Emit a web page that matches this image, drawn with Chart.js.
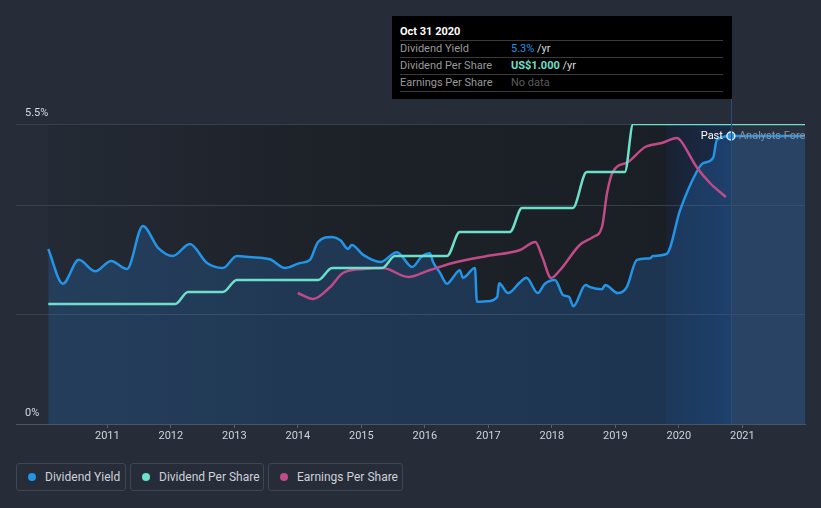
<!DOCTYPE html>
<html>
<head>
<meta charset="utf-8">
<script src="https://cdn.jsdelivr.net/npm/chart.js@4"></script>
<style>
  body { margin: 0; background: #262c38; font-family: Roboto, 'Open Sans', sans-serif; }
  #wrap { position: relative; width: 821px; height: 508px; }
  #chart { position: absolute; left: 0; top: 0; }
  .tip { position: absolute; left: 392px; top: 16px; width: 340px; height: 83px; background: #000; font-size: 11px; }
  .tip .head { position: absolute; left: 8px; top: 9px; color: #fff; font-weight: bold; font-size: 11px; }
  .tip .row { position: absolute; left: 8px; width: 323px; height: 17px; border-top: 1px solid #3a3a3a; line-height: 16px; color: #9a9a9a; }
  .tip .row span.v { position: absolute; left: 111px; }
  .legend { position: absolute; top: 463px; height: 28px; border: 1px solid #3f4653; border-radius: 3px; box-sizing: border-box; color: #cdd1d8; font-size: 12px; line-height: 26px; padding-left: 28px; }
  .legend i { position: absolute; left: 11px; top: 9px; width: 8px; height: 8px; border-radius: 50%; }
</style>
</head>
<body>
<div id="wrap">
  <canvas id="chart" width="821" height="450"></canvas>
  <div class="tip">
    <div class="head">Oct 31 2020</div>
    <div class="row" style="top:24px">Dividend Yield<span class="v"><b style="color:#2394e6;font-weight:normal">5.3%</b> <span style="color:#ddd">/yr</span></span></div>
    <div class="row" style="top:41px">Dividend Per Share<span class="v"><b style="color:#6de0cb">US$1.000</b> <span style="color:#ddd">/yr</span></span></div>
    <div class="row" style="top:58px;height:16px;border-bottom:1px solid #3a3a3a">Earnings Per Share<span class="v" style="color:#5c5c5c">No data</span></div>
  </div>
  <div class="legend" style="left:16px;width:110px"><i style="background:#2394e6"></i>Dividend Yield</div>
  <div class="legend" style="left:130px;width:134px"><i style="background:#6de0cb"></i>Dividend Per Share</div>
  <div class="legend" style="left:268px;width:135px"><i style="background:#c04b88"></i>Earnings Per Share</div>
</div>
<script>
// x values are decimal years
const yieldDates = [2010.07, 2010.30, 2010.55, 2010.81, 2011.06, 2011.31, 2011.56, 2011.80, 2012.03, 2012.30,
  2012.57, 2012.82, 2013.04, 2013.25, 2013.56, 2013.80, 2014.03, 2014.19, 2014.32, 2014.54,
  2014.67, 2014.79, 2014.85, 2015.03, 2015.30, 2015.56, 2015.80, 2015.96, 2016.08, 2016.13,
  2016.24, 2016.35, 2016.44, 2016.55, 2016.60, 2016.79, 2016.82, 2016.98, 2017.14, 2017.17,
  2017.31, 2017.50, 2017.60, 2017.78, 2017.89, 2018.05, 2018.18, 2018.27, 2018.34, 2018.53,
  2018.60, 2018.79, 2018.84, 2019.04, 2019.18, 2019.34, 2019.55, 2019.59, 2019.81, 2020.02,
  2020.28, 2020.38, 2020.54, 2020.60, 2020.82, 2022.0];
const yieldValues = [3.21, 2.57, 3.01, 2.80, 2.99, 2.84, 3.63, 3.23, 3.08, 3.30,
  2.95, 2.86, 3.08, 3.06, 3.02, 2.86, 2.95, 3.01, 3.34, 3.43,
  3.37, 3.21, 3.28, 3.10, 2.97, 3.15, 2.88, 3.08, 3.13, 2.97,
  2.77, 2.57, 2.68, 2.82, 2.68, 2.86, 2.24, 2.25, 2.33, 2.58,
  2.40, 2.60, 2.68, 2.40, 2.57, 2.64, 2.36, 2.33, 2.16, 2.55,
  2.51, 2.47, 2.55, 2.40, 2.51, 3.01, 3.04, 3.08, 3.12, 3.92,
  4.62, 4.78, 4.88, 5.21, 5.28, 5.28];

const dpsDates = [2010.07, 2012.07, 2012.27, 2012.82, 2013.04, 2014.32, 2014.54, 2015.33, 2015.53,
  2016.35, 2016.55, 2017.34, 2017.53, 2018.33, 2018.55, 2019.15, 2019.28, 2022.0];
const dpsValues = [0.40, 0.40, 0.44, 0.44, 0.48, 0.48, 0.52, 0.52, 0.56,
  0.56, 0.64, 0.64, 0.72, 0.72, 0.84, 0.84, 1.00, 1.00];

const epsDates = [2014.00, 2014.24, 2014.51, 2014.71, 2015.03, 2015.34, 2015.74, 2016.08, 2016.44, 2016.98,
  2017.50, 2017.74, 2017.85, 2017.99, 2018.13, 2018.44, 2018.65, 2018.79, 2018.87, 2018.96,
  2019.20, 2019.47, 2019.73, 2019.97, 2020.02, 2020.28, 2020.49, 2020.74];
const epsValues = [1.31, 1.25, 1.37, 1.51, 1.55, 1.56, 1.47, 1.54, 1.61, 1.68,
  1.74, 1.82, 1.67, 1.46, 1.54, 1.79, 1.87, 1.97, 2.31, 2.52,
  2.62, 2.77, 2.81, 2.86, 2.84, 2.57, 2.41, 2.27];

const yearTicks = [2011, 2012, 2013, 2014, 2015, 2016, 2017, 2018, 2019, 2020, 2021];
const yGridValues = [0, 2, 4, 5.5];
const yTickLabels = ['0%', '5.5%'];

const startDate = 2010.07;
const bandStart = 2019.81;
const pastDate = 2020.82;
const endDate = 2022.0;

const pts = (xs, ys) => xs.map((x, i) => ({ x, y: ys[i] }));
const markerRadius = r => c => (c.raw && c.raw.x === pastDate ? r : 0);

// plot backgrounds, drawn before the grid
const backdrop = {
  id: 'backdrop',
  beforeDraw(chart) {
    const { ctx, chartArea, scales } = chart;
    const x = scales.x;
    const top = chartArea.top, bottom = chartArea.bottom;
    const x0 = x.getPixelForValue(startDate);
    const x1 = x.getPixelForValue(bandStart);
    const x2 = x.getPixelForValue(pastDate);
    const x3 = x.getPixelForValue(endDate);
    ctx.save();
    let g = ctx.createLinearGradient(x0, 0, x1, 0);
    g.addColorStop(0, '#242a35');
    g.addColorStop(0.45, '#1d2128');
    g.addColorStop(1, '#1a1e25');
    ctx.fillStyle = g;
    ctx.fillRect(x0, top, x1 - x0, bottom - top);
    g = ctx.createLinearGradient(x1, 0, x2, 0);
    g.addColorStop(0, '#192233');
    g.addColorStop(1, '#1a2c4a');
    ctx.fillStyle = g;
    ctx.fillRect(x1, top, x2 - x1, bottom - top);
    ctx.fillStyle = '#283140';
    ctx.fillRect(x2, top, x3 - x2, bottom - top);
    ctx.restore();
  },
  afterDatasetsDraw(chart) {
    const { ctx, chartArea, scales } = chart;
    const x = scales.x, y = scales.y;
    const xp = x.getPixelForValue(pastDate);
    ctx.save();
    // y labels sit above their grid line
    ctx.font = '11px Roboto, sans-serif';
    ctx.fillStyle = '#d8dce2';
    ctx.textBaseline = 'bottom';
    ctx.fillText(yTickLabels[1], 25, y.getPixelForValue(5.5) - 5);
    ctx.fillText(yTickLabels[0], 25, y.getPixelForValue(0) - 5);
    // past / forecast divider
    ctx.strokeStyle = '#2b4d78';
    ctx.lineWidth = 1;
    ctx.beginPath();
    ctx.moveTo(Math.round(xp) + 0.5, 99);
    ctx.lineTo(Math.round(xp) + 0.5, chartArea.bottom);
    ctx.stroke();
    const yy = y.getPixelForValue(5.28);
    ctx.textBaseline = 'middle';
    ctx.textAlign = 'right';
    ctx.fillStyle = '#ffffff';
    ctx.fillText('Past', xp - 8, yy);
    ctx.beginPath();
    ctx.rect(xp, chartArea.top, chartArea.right - xp, chartArea.bottom - chartArea.top);
    ctx.clip();
    ctx.textAlign = 'left';
    ctx.fillStyle = '#8893a3';
    ctx.fillText('Analysts Forecasts', xp + 8, yy);
    ctx.restore();
  }
};

const ctx = document.getElementById('chart').getContext('2d');
const chart = new Chart(ctx, {
  type: 'line',
  data: {
    datasets: [
      {
        label: 'Dividend Per Share',
        data: pts(dpsDates, dpsValues),
        yAxisID: 'dps',
        borderColor: '#6de0cb',
        borderWidth: 2.5,
        cubicInterpolationMode: 'monotone',
        pointRadius: markerRadius(4),
        pointBackgroundColor: '#6de0cb',
        pointBorderColor: '#ffffff',
        pointBorderWidth: 1.5,
        fill: false,
        order: 1
      },
      {
        label: 'Earnings Per Share',
        data: pts(epsDates, epsValues),
        yAxisID: 'eps',
        borderColor: '#c04b88',
        borderWidth: 2.5,
        cubicInterpolationMode: 'monotone',
        pointRadius: 0,
        fill: false,
        order: 2
      },
      {
        label: 'Dividend Yield',
        data: pts(yieldDates, yieldValues),
        yAxisID: 'y',
        borderColor: '#2394e6',
        borderWidth: 2.5,
        cubicInterpolationMode: 'monotone',
        pointRadius: markerRadius(4),
        pointBackgroundColor: '#2394e6',
        pointBorderColor: '#dbe9f7',
        pointBorderWidth: 1.5,
        fill: 'origin',
        backgroundColor: 'rgba(40,120,200,0.27)',
        order: 3
      }
    ]
  },
  options: {
    responsive: false,
    animation: false,
    layout: { padding: { left: 16, right: 16, top: 124, bottom: 0 } },
    plugins: { legend: { display: false }, tooltip: { enabled: false } },
    scales: {
      x: {
        type: 'linear',
        min: 2009.562,
        max: 2021.987,
        afterBuildTicks: s => { s.ticks = yearTicks.map(v => ({ value: v })); },
        afterFit: s => { s.height = 26; },
        ticks: {
          color: '#d0d4da',
          font: { family: 'Roboto', size: 11 },
          padding: 2,
          maxRotation: 0,
          callback: v => String(v)
        },
        grid: { drawOnChartArea: false, drawTicks: true, tickLength: 4, color: '#5a606b' },
        border: { color: '#4e5460', width: 1 }
      },
      y: {
        min: 0,
        max: 5.5,
        afterBuildTicks: s => { s.ticks = yGridValues.map(v => ({ value: v })); },
        afterFit: s => { s.width = 0; },
        ticks: { display: false },
        grid: { color: '#3a404b', drawTicks: false },
        border: { display: false }
      },
      dps: { display: false, min: 0, max: 1.0 },
      eps: { display: false, min: 0, max: 3.0 }
    }
  },
  plugins: [backdrop]
});
</script>
</body>
</html>
